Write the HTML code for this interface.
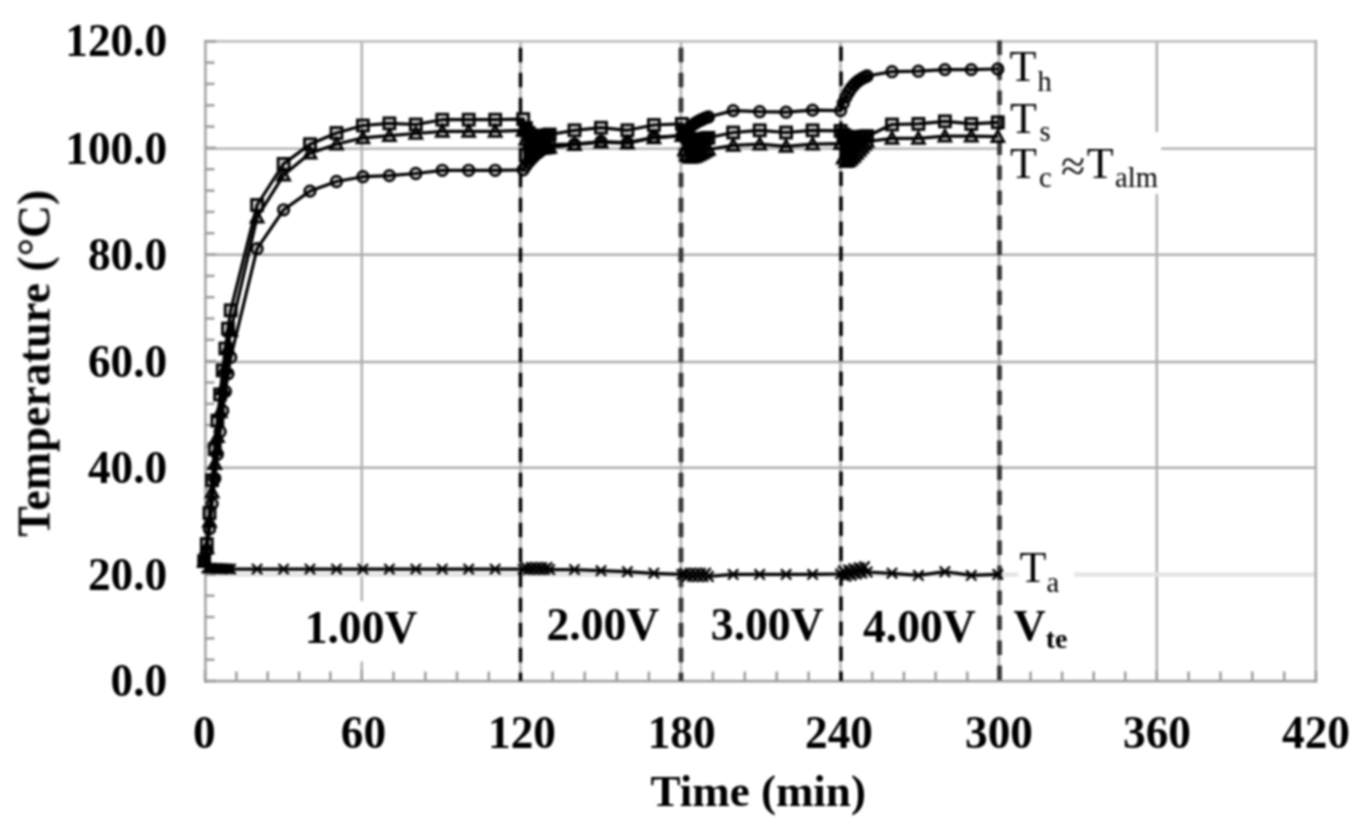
<!DOCTYPE html>
<html><head><meta charset="utf-8"><title>Temperature vs Time</title>
<style>
html,body{margin:0;padding:0;background:#fff;}
body{width:1366px;height:832px;overflow:hidden;}
svg{display:block;}
text{font-family:"Liberation Serif","Times New Roman",serif;fill:#000;}
.b{font-weight:bold;}
</style></head><body>
<svg width="1366" height="832" viewBox="0 0 1366 832">
<defs><filter id="soft" color-interpolation-filters="sRGB" x="-2%" y="-2%" width="104%" height="104%"><feGaussianBlur stdDeviation="0.9"/></filter></defs>
<rect width="1366" height="832" fill="#fff"/>
<g filter="url(#soft)">

<g stroke="#adadad" stroke-width="2.4" fill="none">
<line x1="361.8" y1="41" x2="361.8" y2="681"/>
<line x1="520.5" y1="41" x2="520.5" y2="681"/>
<line x1="681.0" y1="41" x2="681.0" y2="681"/>
<line x1="840.5" y1="41" x2="840.5" y2="681"/>
<line x1="999.0" y1="41" x2="999.0" y2="681"/>
<line x1="1156.8" y1="41" x2="1156.8" y2="681"/>
<line x1="205" y1="148.6" x2="1316" y2="148.6"/>
<line x1="205" y1="254.8" x2="1316" y2="254.8"/>
<line x1="205" y1="362.0" x2="1316" y2="362.0"/>
<line x1="205" y1="467.8" x2="1316" y2="467.8"/>
</g>
<line x1="205" y1="574.6" x2="1316" y2="574.6" stroke="#e4e4e4" stroke-width="4.4"/>
<rect x="1002" y="132" width="159" height="62" fill="#fff"/>
<rect x="300" y="601" width="122" height="60.5" fill="#fff"/>
<rect x="1018.6" y="548" width="55.4" height="50" fill="#fff"/>
<g stroke-width="2.9" fill="none" stroke-linecap="square">
<line x1="205.4" y1="41.4" x2="1315.8" y2="41.4" stroke="#c0c0c0"/>
<line x1="205.4" y1="41.4" x2="205.4" y2="681.2" stroke="#aeaeae"/>
<line x1="1315.8" y1="41.4" x2="1315.8" y2="681.2" stroke="#aeaeae" stroke-width="2.5"/>
<line x1="205.4" y1="681.2" x2="1315.8" y2="681.2" stroke="#a2a2a2" stroke-width="2.7"/>
</g>
<g stroke="#9c9c9c" stroke-width="2.5">
<line x1="205.0" y1="681" x2="205.0" y2="670.5"/>
<line x1="236.4" y1="681" x2="236.4" y2="671.5"/>
<line x1="267.7" y1="681" x2="267.7" y2="671.5"/>
<line x1="299.1" y1="681" x2="299.1" y2="671.5"/>
<line x1="330.4" y1="681" x2="330.4" y2="671.5"/>
<line x1="361.8" y1="681" x2="361.8" y2="670.5"/>
<line x1="393.5" y1="681" x2="393.5" y2="671.5"/>
<line x1="425.3" y1="681" x2="425.3" y2="671.5"/>
<line x1="457.0" y1="681" x2="457.0" y2="671.5"/>
<line x1="488.8" y1="681" x2="488.8" y2="671.5"/>
<line x1="520.5" y1="681" x2="520.5" y2="670.5"/>
<line x1="552.6" y1="681" x2="552.6" y2="671.5"/>
<line x1="584.7" y1="681" x2="584.7" y2="671.5"/>
<line x1="616.8" y1="681" x2="616.8" y2="671.5"/>
<line x1="648.9" y1="681" x2="648.9" y2="671.5"/>
<line x1="681.0" y1="681" x2="681.0" y2="670.5"/>
<line x1="712.9" y1="681" x2="712.9" y2="671.5"/>
<line x1="744.8" y1="681" x2="744.8" y2="671.5"/>
<line x1="776.7" y1="681" x2="776.7" y2="671.5"/>
<line x1="808.6" y1="681" x2="808.6" y2="671.5"/>
<line x1="840.5" y1="681" x2="840.5" y2="670.5"/>
<line x1="872.2" y1="681" x2="872.2" y2="671.5"/>
<line x1="903.9" y1="681" x2="903.9" y2="671.5"/>
<line x1="935.6" y1="681" x2="935.6" y2="671.5"/>
<line x1="967.3" y1="681" x2="967.3" y2="671.5"/>
<line x1="999.0" y1="681" x2="999.0" y2="670.5"/>
<line x1="1030.6" y1="681" x2="1030.6" y2="671.5"/>
<line x1="1062.1" y1="681" x2="1062.1" y2="671.5"/>
<line x1="1093.7" y1="681" x2="1093.7" y2="671.5"/>
<line x1="1125.2" y1="681" x2="1125.2" y2="671.5"/>
<line x1="1156.8" y1="681" x2="1156.8" y2="670.5"/>
<line x1="1188.6" y1="681" x2="1188.6" y2="671.5"/>
<line x1="1220.5" y1="681" x2="1220.5" y2="671.5"/>
<line x1="1252.3" y1="681" x2="1252.3" y2="671.5"/>
<line x1="1284.2" y1="681" x2="1284.2" y2="671.5"/>
<line x1="1316.0" y1="681" x2="1316.0" y2="670.5"/>
<line x1="205" y1="681.0" x2="216.0" y2="681.0"/>
<line x1="205" y1="659.7" x2="214.5" y2="659.7"/>
<line x1="205" y1="638.4" x2="214.5" y2="638.4"/>
<line x1="205" y1="617.0" x2="214.5" y2="617.0"/>
<line x1="205" y1="595.7" x2="214.5" y2="595.7"/>
<line x1="205" y1="574.4" x2="216.0" y2="574.4"/>
<line x1="205" y1="553.1" x2="214.5" y2="553.1"/>
<line x1="205" y1="531.7" x2="214.5" y2="531.7"/>
<line x1="205" y1="510.4" x2="214.5" y2="510.4"/>
<line x1="205" y1="489.1" x2="214.5" y2="489.1"/>
<line x1="205" y1="467.8" x2="216.0" y2="467.8"/>
<line x1="205" y1="446.4" x2="214.5" y2="446.4"/>
<line x1="205" y1="425.1" x2="214.5" y2="425.1"/>
<line x1="205" y1="403.8" x2="214.5" y2="403.8"/>
<line x1="205" y1="382.5" x2="214.5" y2="382.5"/>
<line x1="205" y1="361.1" x2="216.0" y2="361.1"/>
<line x1="205" y1="339.8" x2="214.5" y2="339.8"/>
<line x1="205" y1="318.5" x2="214.5" y2="318.5"/>
<line x1="205" y1="297.2" x2="214.5" y2="297.2"/>
<line x1="205" y1="275.9" x2="214.5" y2="275.9"/>
<line x1="205" y1="254.5" x2="216.0" y2="254.5"/>
<line x1="205" y1="233.2" x2="214.5" y2="233.2"/>
<line x1="205" y1="211.9" x2="214.5" y2="211.9"/>
<line x1="205" y1="190.6" x2="214.5" y2="190.6"/>
<line x1="205" y1="169.2" x2="214.5" y2="169.2"/>
<line x1="205" y1="147.9" x2="216.0" y2="147.9"/>
<line x1="205" y1="126.6" x2="214.5" y2="126.6"/>
<line x1="205" y1="105.3" x2="214.5" y2="105.3"/>
<line x1="205" y1="83.9" x2="214.5" y2="83.9"/>
<line x1="205" y1="62.6" x2="214.5" y2="62.6"/>
<line x1="205" y1="41.3" x2="216.0" y2="41.3"/>
</g>
<line x1="520.5" y1="47.8" x2="520.5" y2="681" stroke="#000" stroke-width="3.5" stroke-dasharray="14.5 10.5"/>
<line x1="681.0" y1="47.8" x2="681.0" y2="681" stroke="#383838" stroke-width="4.8" stroke-dasharray="14.5 10.5"/>
<line x1="841.0" y1="46.5" x2="841.0" y2="681" stroke="#000" stroke-width="3.5" stroke-dasharray="14.5 10.5"/>
<line x1="999.5" y1="40.5" x2="999.5" y2="681" stroke="#383838" stroke-width="4.8" stroke-dasharray="14.5 10.5"/>
<polygon points="204.2,561.1 206.8,544.1 209.5,513.0 212.1,480.2 214.8,449.2 217.4,420.6 220.1,394.4 222.7,370.4 225.4,348.5 228.0,328.6 230.7,310.3 230.7,357.4 228.0,373.8 225.4,391.5 222.7,410.8 220.1,431.7 217.4,454.3 214.8,478.4 212.1,503.7 209.5,528.9 206.8,550.7 204.2,561.1" fill="#000"/>
<polygon points="523.2,119.1 525.9,128.0 528.5,132.8 531.2,135.2 533.8,136.3 536.4,136.7 539.1,136.6 541.7,136.2 544.4,135.7 547.0,135.1 549.7,134.5 549.7,144.7 547.0,146.4 544.4,148.1 541.7,150.0 539.1,152.0 536.4,154.1 533.8,156.5 531.2,159.2 528.5,162.2 525.9,165.7 523.2,169.8" fill="#000"/>
<polygon points="681.9,123.9 684.6,132.7 687.2,137.0 689.9,138.9 692.5,139.7 695.2,139.8 697.8,139.6 700.5,139.2 703.1,138.8 705.7,138.3 708.4,137.8 708.4,149.5 705.7,150.9 703.1,152.4 700.5,153.8 697.8,155.1 695.2,156.3 692.5,157.1 689.9,157.3 687.2,155.7 684.6,150.2 681.9,135.7" fill="#000"/>
<polygon points="840.6,130.9 843.3,134.5 845.9,136.2 848.6,137.0 851.2,137.2 853.9,137.2 856.5,137.1 859.2,136.9 861.8,136.7 864.5,136.4 867.1,136.2 867.1,141.5 864.5,144.5 861.8,147.5 859.2,150.5 856.5,153.4 853.9,156.3 851.2,158.9 848.6,161.0 845.9,161.7 843.3,158.2 840.6,143.7" fill="#000"/>
<polyline points="204.2,561.6 206.8,568.1 209.5,568.2 212.1,568.3 214.8,568.4 217.4,568.5 220.1,568.6 222.7,568.7 225.4,568.8 228.0,568.9 230.7,569.1 257.1,569.1 283.6,569.1 310.0,569.1 336.5,569.1 362.9,569.1 389.4,569.1 415.8,569.1 442.3,569.1 468.7,569.1 495.2,569.1 523.2,569.1 525.9,567.5 528.5,569.6 531.2,567.5 533.8,569.6 536.4,567.5 539.1,569.6 541.7,567.5 544.4,569.6 547.0,567.5 549.7,569.6 574.5,569.6 601.0,570.7 627.4,571.7 653.9,573.3 681.9,574.4 684.6,573.3 687.2,576.5 689.9,573.3 692.5,576.5 695.2,573.3 697.8,576.5 700.5,573.3 703.1,576.5 705.7,573.3 708.4,576.5 733.2,574.4 759.7,574.4 786.1,574.4 812.6,574.4 840.6,573.9 843.3,570.9 845.9,576.2 848.6,569.9 851.2,575.2 853.9,568.8 856.5,574.1 859.2,567.7 861.8,573.1 864.5,566.7 867.1,572.0 892.0,573.3 918.4,575.4 944.9,571.7 971.3,575.4 997.8,574.4" fill="none" stroke="#000" stroke-width="3.2" stroke-linejoin="round"/>
<g fill="none" stroke="#000" stroke-width="2.4"><path d="M199.1 556.5 l10.2 10.2 m0 -10.2 l-10.2 10.2"/><path d="M201.7 563.0 l10.2 10.2 m0 -10.2 l-10.2 10.2"/><path d="M204.4 563.1 l10.2 10.2 m0 -10.2 l-10.2 10.2"/><path d="M207.0 563.2 l10.2 10.2 m0 -10.2 l-10.2 10.2"/><path d="M209.7 563.3 l10.2 10.2 m0 -10.2 l-10.2 10.2"/><path d="M212.3 563.4 l10.2 10.2 m0 -10.2 l-10.2 10.2"/><path d="M215.0 563.5 l10.2 10.2 m0 -10.2 l-10.2 10.2"/><path d="M217.6 563.6 l10.2 10.2 m0 -10.2 l-10.2 10.2"/><path d="M220.3 563.7 l10.2 10.2 m0 -10.2 l-10.2 10.2"/><path d="M222.9 563.8 l10.2 10.2 m0 -10.2 l-10.2 10.2"/><path d="M225.6 564.0 l10.2 10.2 m0 -10.2 l-10.2 10.2"/><path d="M252.0 564.0 l10.2 10.2 m0 -10.2 l-10.2 10.2"/><path d="M278.5 564.0 l10.2 10.2 m0 -10.2 l-10.2 10.2"/><path d="M304.9 564.0 l10.2 10.2 m0 -10.2 l-10.2 10.2"/><path d="M331.4 564.0 l10.2 10.2 m0 -10.2 l-10.2 10.2"/><path d="M357.8 564.0 l10.2 10.2 m0 -10.2 l-10.2 10.2"/><path d="M384.3 564.0 l10.2 10.2 m0 -10.2 l-10.2 10.2"/><path d="M410.7 564.0 l10.2 10.2 m0 -10.2 l-10.2 10.2"/><path d="M437.2 564.0 l10.2 10.2 m0 -10.2 l-10.2 10.2"/><path d="M463.6 564.0 l10.2 10.2 m0 -10.2 l-10.2 10.2"/><path d="M490.1 564.0 l10.2 10.2 m0 -10.2 l-10.2 10.2"/><path d="M518.1 564.0 l10.2 10.2 m0 -10.2 l-10.2 10.2"/><path d="M520.8 562.4 l10.2 10.2 m0 -10.2 l-10.2 10.2"/><path d="M523.4 564.5 l10.2 10.2 m0 -10.2 l-10.2 10.2"/><path d="M526.1 562.4 l10.2 10.2 m0 -10.2 l-10.2 10.2"/><path d="M528.7 564.5 l10.2 10.2 m0 -10.2 l-10.2 10.2"/><path d="M531.3 562.4 l10.2 10.2 m0 -10.2 l-10.2 10.2"/><path d="M534.0 564.5 l10.2 10.2 m0 -10.2 l-10.2 10.2"/><path d="M536.6 562.4 l10.2 10.2 m0 -10.2 l-10.2 10.2"/><path d="M539.3 564.5 l10.2 10.2 m0 -10.2 l-10.2 10.2"/><path d="M541.9 562.4 l10.2 10.2 m0 -10.2 l-10.2 10.2"/><path d="M544.6 564.5 l10.2 10.2 m0 -10.2 l-10.2 10.2"/><path d="M569.4 564.5 l10.2 10.2 m0 -10.2 l-10.2 10.2"/><path d="M595.9 565.6 l10.2 10.2 m0 -10.2 l-10.2 10.2"/><path d="M622.3 566.6 l10.2 10.2 m0 -10.2 l-10.2 10.2"/><path d="M648.8 568.2 l10.2 10.2 m0 -10.2 l-10.2 10.2"/><path d="M676.8 569.3 l10.2 10.2 m0 -10.2 l-10.2 10.2"/><path d="M679.5 568.2 l10.2 10.2 m0 -10.2 l-10.2 10.2"/><path d="M682.1 571.4 l10.2 10.2 m0 -10.2 l-10.2 10.2"/><path d="M684.8 568.2 l10.2 10.2 m0 -10.2 l-10.2 10.2"/><path d="M687.4 571.4 l10.2 10.2 m0 -10.2 l-10.2 10.2"/><path d="M690.1 568.2 l10.2 10.2 m0 -10.2 l-10.2 10.2"/><path d="M692.7 571.4 l10.2 10.2 m0 -10.2 l-10.2 10.2"/><path d="M695.4 568.2 l10.2 10.2 m0 -10.2 l-10.2 10.2"/><path d="M698.0 571.4 l10.2 10.2 m0 -10.2 l-10.2 10.2"/><path d="M700.6 568.2 l10.2 10.2 m0 -10.2 l-10.2 10.2"/><path d="M703.3 571.4 l10.2 10.2 m0 -10.2 l-10.2 10.2"/><path d="M728.1 569.3 l10.2 10.2 m0 -10.2 l-10.2 10.2"/><path d="M754.6 569.3 l10.2 10.2 m0 -10.2 l-10.2 10.2"/><path d="M781.0 569.3 l10.2 10.2 m0 -10.2 l-10.2 10.2"/><path d="M807.5 569.3 l10.2 10.2 m0 -10.2 l-10.2 10.2"/><path d="M835.5 568.8 l10.2 10.2 m0 -10.2 l-10.2 10.2"/><path d="M838.2 565.8 l10.2 10.2 m0 -10.2 l-10.2 10.2"/><path d="M840.8 571.1 l10.2 10.2 m0 -10.2 l-10.2 10.2"/><path d="M843.5 564.8 l10.2 10.2 m0 -10.2 l-10.2 10.2"/><path d="M846.1 570.1 l10.2 10.2 m0 -10.2 l-10.2 10.2"/><path d="M848.8 563.7 l10.2 10.2 m0 -10.2 l-10.2 10.2"/><path d="M851.4 569.0 l10.2 10.2 m0 -10.2 l-10.2 10.2"/><path d="M854.1 562.6 l10.2 10.2 m0 -10.2 l-10.2 10.2"/><path d="M856.7 568.0 l10.2 10.2 m0 -10.2 l-10.2 10.2"/><path d="M859.4 561.6 l10.2 10.2 m0 -10.2 l-10.2 10.2"/><path d="M862.0 566.9 l10.2 10.2 m0 -10.2 l-10.2 10.2"/><path d="M886.9 568.2 l10.2 10.2 m0 -10.2 l-10.2 10.2"/><path d="M913.3 570.3 l10.2 10.2 m0 -10.2 l-10.2 10.2"/><path d="M939.8 566.6 l10.2 10.2 m0 -10.2 l-10.2 10.2"/><path d="M966.2 570.3 l10.2 10.2 m0 -10.2 l-10.2 10.2"/><path d="M992.7 569.3 l10.2 10.2 m0 -10.2 l-10.2 10.2"/></g>
<polyline points="204.2,561.1 206.8,547.8 209.5,521.4 212.1,492.2 214.8,463.6 217.4,436.7 220.1,411.9 222.7,388.9 225.4,367.8 228.0,348.5 230.7,330.6 257.1,217.2 283.6,175.1 310.0,153.2 336.5,144.2 362.9,137.8 389.4,135.7 415.8,133.5 442.3,131.4 468.7,131.4 495.2,131.4 523.2,130.3 525.9,139.3 528.5,144.3 531.2,146.9 533.8,148.2 536.4,148.7 539.1,148.7 541.7,148.5 544.4,148.2 547.0,147.8 549.7,147.3 574.5,144.7 601.0,142.1 627.4,143.1 653.9,137.8 681.9,135.7 684.6,150.2 687.2,155.7 689.9,157.3 692.5,157.1 695.2,156.3 697.8,155.1 700.5,153.8 703.1,152.4 705.7,150.9 708.4,149.5 733.2,145.3 759.7,144.2 786.1,146.3 812.6,144.2 840.6,143.7 843.3,158.2 845.9,161.7 848.6,161.0 851.2,158.9 853.9,156.3 856.5,153.4 859.2,150.5 861.8,147.5 864.5,144.5 867.1,141.5 892.0,138.3 918.4,138.3 944.9,136.2 971.3,136.2 997.8,136.7" fill="none" stroke="#000" stroke-width="3.2" stroke-linejoin="round"/>
<g fill="rgba(0,0,0,0.16)" stroke="#000" stroke-width="2.7"><path d="M204.2 555.1 l6.0 11.0 h-12.0 z"/><path d="M206.8 541.8 l6.0 11.0 h-12.0 z"/><path d="M209.5 515.4 l6.0 11.0 h-12.0 z"/><path d="M212.1 486.2 l6.0 11.0 h-12.0 z"/><path d="M214.8 457.6 l6.0 11.0 h-12.0 z"/><path d="M217.4 430.7 l6.0 11.0 h-12.0 z"/><path d="M220.1 405.9 l6.0 11.0 h-12.0 z"/><path d="M222.7 382.9 l6.0 11.0 h-12.0 z"/><path d="M225.4 361.8 l6.0 11.0 h-12.0 z"/><path d="M228.0 342.5 l6.0 11.0 h-12.0 z"/><path d="M230.7 324.6 l6.0 11.0 h-12.0 z"/><path d="M257.1 211.2 l6.0 11.0 h-12.0 z"/><path d="M283.6 169.1 l6.0 11.0 h-12.0 z"/><path d="M310.0 147.2 l6.0 11.0 h-12.0 z"/><path d="M336.5 138.2 l6.0 11.0 h-12.0 z"/><path d="M362.9 131.8 l6.0 11.0 h-12.0 z"/><path d="M389.4 129.7 l6.0 11.0 h-12.0 z"/><path d="M415.8 127.5 l6.0 11.0 h-12.0 z"/><path d="M442.3 125.4 l6.0 11.0 h-12.0 z"/><path d="M468.7 125.4 l6.0 11.0 h-12.0 z"/><path d="M495.2 125.4 l6.0 11.0 h-12.0 z"/><path d="M523.2 124.3 l6.0 11.0 h-12.0 z"/><path d="M525.9 133.3 l6.0 11.0 h-12.0 z"/><path d="M528.5 138.3 l6.0 11.0 h-12.0 z"/><path d="M531.2 140.9 l6.0 11.0 h-12.0 z"/><path d="M533.8 142.2 l6.0 11.0 h-12.0 z"/><path d="M536.4 142.7 l6.0 11.0 h-12.0 z"/><path d="M539.1 142.7 l6.0 11.0 h-12.0 z"/><path d="M541.7 142.5 l6.0 11.0 h-12.0 z"/><path d="M544.4 142.2 l6.0 11.0 h-12.0 z"/><path d="M547.0 141.8 l6.0 11.0 h-12.0 z"/><path d="M549.7 141.3 l6.0 11.0 h-12.0 z"/><path d="M574.5 138.7 l6.0 11.0 h-12.0 z"/><path d="M601.0 136.1 l6.0 11.0 h-12.0 z"/><path d="M627.4 137.1 l6.0 11.0 h-12.0 z"/><path d="M653.9 131.8 l6.0 11.0 h-12.0 z"/><path d="M681.9 129.7 l6.0 11.0 h-12.0 z"/><path d="M684.6 144.2 l6.0 11.0 h-12.0 z"/><path d="M687.2 149.7 l6.0 11.0 h-12.0 z"/><path d="M689.9 151.3 l6.0 11.0 h-12.0 z"/><path d="M692.5 151.1 l6.0 11.0 h-12.0 z"/><path d="M695.2 150.3 l6.0 11.0 h-12.0 z"/><path d="M697.8 149.1 l6.0 11.0 h-12.0 z"/><path d="M700.5 147.8 l6.0 11.0 h-12.0 z"/><path d="M703.1 146.4 l6.0 11.0 h-12.0 z"/><path d="M705.7 144.9 l6.0 11.0 h-12.0 z"/><path d="M708.4 143.5 l6.0 11.0 h-12.0 z"/><path d="M733.2 139.3 l6.0 11.0 h-12.0 z"/><path d="M759.7 138.2 l6.0 11.0 h-12.0 z"/><path d="M786.1 140.3 l6.0 11.0 h-12.0 z"/><path d="M812.6 138.2 l6.0 11.0 h-12.0 z"/><path d="M840.6 137.7 l6.0 11.0 h-12.0 z"/><path d="M843.3 152.2 l6.0 11.0 h-12.0 z"/><path d="M845.9 155.7 l6.0 11.0 h-12.0 z"/><path d="M848.6 155.0 l6.0 11.0 h-12.0 z"/><path d="M851.2 152.9 l6.0 11.0 h-12.0 z"/><path d="M853.9 150.3 l6.0 11.0 h-12.0 z"/><path d="M856.5 147.4 l6.0 11.0 h-12.0 z"/><path d="M859.2 144.5 l6.0 11.0 h-12.0 z"/><path d="M861.8 141.5 l6.0 11.0 h-12.0 z"/><path d="M864.5 138.5 l6.0 11.0 h-12.0 z"/><path d="M867.1 135.5 l6.0 11.0 h-12.0 z"/><path d="M892.0 132.3 l6.0 11.0 h-12.0 z"/><path d="M918.4 132.3 l6.0 11.0 h-12.0 z"/><path d="M944.9 130.2 l6.0 11.0 h-12.0 z"/><path d="M971.3 130.2 l6.0 11.0 h-12.0 z"/><path d="M997.8 130.7 l6.0 11.0 h-12.0 z"/></g>
<polyline points="204.2,561.1 206.8,544.1 209.5,513.0 212.1,480.2 214.8,449.2 217.4,420.6 220.1,394.4 222.7,370.4 225.4,348.5 228.0,328.6 230.7,310.3 257.1,205.0 283.6,163.9 310.0,144.2 336.5,133.0 362.9,125.5 389.4,123.4 415.8,124.5 442.3,119.7 468.7,119.7 495.2,119.7 523.2,119.1 525.9,128.0 528.5,132.8 531.2,135.2 533.8,136.3 536.4,136.7 539.1,136.6 541.7,136.2 544.4,135.7 547.0,135.1 549.7,134.5 574.5,130.3 601.0,127.7 627.4,130.3 653.9,125.0 681.9,123.9 684.6,132.7 687.2,137.0 689.9,138.9 692.5,139.7 695.2,139.8 697.8,139.6 700.5,139.2 703.1,138.8 705.7,138.3 708.4,137.8 733.2,132.5 759.7,130.3 786.1,132.5 812.6,130.3 840.6,130.9 843.3,134.5 845.9,136.2 848.6,137.0 851.2,137.2 853.9,137.2 856.5,137.1 859.2,136.9 861.8,136.7 864.5,136.4 867.1,136.2 892.0,124.5 918.4,123.9 944.9,121.3 971.3,123.9 997.8,122.3" fill="none" stroke="#000" stroke-width="3.2" stroke-linejoin="round"/>
<g fill="rgba(0,0,0,0.16)" stroke="#000" stroke-width="2.8"><rect x="198.7" y="555.6" width="11.0" height="11.0"/><rect x="201.3" y="538.6" width="11.0" height="11.0"/><rect x="204.0" y="507.5" width="11.0" height="11.0"/><rect x="206.6" y="474.7" width="11.0" height="11.0"/><rect x="209.3" y="443.7" width="11.0" height="11.0"/><rect x="211.9" y="415.1" width="11.0" height="11.0"/><rect x="214.6" y="388.9" width="11.0" height="11.0"/><rect x="217.2" y="364.9" width="11.0" height="11.0"/><rect x="219.9" y="343.0" width="11.0" height="11.0"/><rect x="222.5" y="323.1" width="11.0" height="11.0"/><rect x="225.2" y="304.8" width="11.0" height="11.0"/><rect x="251.6" y="199.5" width="11.0" height="11.0"/><rect x="278.1" y="158.4" width="11.0" height="11.0"/><rect x="304.5" y="138.7" width="11.0" height="11.0"/><rect x="331.0" y="127.5" width="11.0" height="11.0"/><rect x="357.4" y="120.0" width="11.0" height="11.0"/><rect x="383.9" y="117.9" width="11.0" height="11.0"/><rect x="410.3" y="119.0" width="11.0" height="11.0"/><rect x="436.8" y="114.2" width="11.0" height="11.0"/><rect x="463.2" y="114.2" width="11.0" height="11.0"/><rect x="489.7" y="114.2" width="11.0" height="11.0"/><rect x="517.7" y="113.6" width="11.0" height="11.0"/><rect x="520.4" y="122.5" width="11.0" height="11.0"/><rect x="523.0" y="127.3" width="11.0" height="11.0"/><rect x="525.7" y="129.7" width="11.0" height="11.0"/><rect x="528.3" y="130.8" width="11.0" height="11.0"/><rect x="530.9" y="131.2" width="11.0" height="11.0"/><rect x="533.6" y="131.1" width="11.0" height="11.0"/><rect x="536.2" y="130.7" width="11.0" height="11.0"/><rect x="538.9" y="130.2" width="11.0" height="11.0"/><rect x="541.5" y="129.6" width="11.0" height="11.0"/><rect x="544.2" y="129.0" width="11.0" height="11.0"/><rect x="569.0" y="124.8" width="11.0" height="11.0"/><rect x="595.5" y="122.2" width="11.0" height="11.0"/><rect x="621.9" y="124.8" width="11.0" height="11.0"/><rect x="648.4" y="119.5" width="11.0" height="11.0"/><rect x="676.4" y="118.4" width="11.0" height="11.0"/><rect x="679.1" y="127.2" width="11.0" height="11.0"/><rect x="681.7" y="131.5" width="11.0" height="11.0"/><rect x="684.4" y="133.4" width="11.0" height="11.0"/><rect x="687.0" y="134.2" width="11.0" height="11.0"/><rect x="689.7" y="134.3" width="11.0" height="11.0"/><rect x="692.3" y="134.1" width="11.0" height="11.0"/><rect x="695.0" y="133.7" width="11.0" height="11.0"/><rect x="697.6" y="133.3" width="11.0" height="11.0"/><rect x="700.2" y="132.8" width="11.0" height="11.0"/><rect x="702.9" y="132.3" width="11.0" height="11.0"/><rect x="727.7" y="127.0" width="11.0" height="11.0"/><rect x="754.2" y="124.8" width="11.0" height="11.0"/><rect x="780.6" y="127.0" width="11.0" height="11.0"/><rect x="807.1" y="124.8" width="11.0" height="11.0"/><rect x="835.1" y="125.4" width="11.0" height="11.0"/><rect x="837.8" y="129.0" width="11.0" height="11.0"/><rect x="840.4" y="130.7" width="11.0" height="11.0"/><rect x="843.1" y="131.5" width="11.0" height="11.0"/><rect x="845.7" y="131.7" width="11.0" height="11.0"/><rect x="848.4" y="131.7" width="11.0" height="11.0"/><rect x="851.0" y="131.6" width="11.0" height="11.0"/><rect x="853.7" y="131.4" width="11.0" height="11.0"/><rect x="856.3" y="131.2" width="11.0" height="11.0"/><rect x="859.0" y="130.9" width="11.0" height="11.0"/><rect x="861.6" y="130.7" width="11.0" height="11.0"/><rect x="886.5" y="119.0" width="11.0" height="11.0"/><rect x="912.9" y="118.4" width="11.0" height="11.0"/><rect x="939.4" y="115.8" width="11.0" height="11.0"/><rect x="965.8" y="118.4" width="11.0" height="11.0"/><rect x="992.3" y="116.8" width="11.0" height="11.0"/></g>
<polyline points="204.2,561.1 206.8,550.7 209.5,528.9 212.1,503.7 214.8,478.4 217.4,454.3 220.1,431.7 222.7,410.8 225.4,391.5 228.0,373.8 230.7,357.4 257.1,248.7 283.6,209.8 310.0,191.1 336.5,181.5 362.9,176.7 389.4,175.6 415.8,173.5 442.3,170.3 468.7,170.3 495.2,170.3 523.2,169.8 525.9,165.7 528.5,162.2 531.2,159.2 533.8,156.5 536.4,154.1 539.1,152.0 541.7,150.0 544.4,148.1 547.0,146.4 549.7,144.7 574.5,144.2 601.0,141.5 627.4,142.6 653.9,137.3 681.9,135.7 684.6,132.4 687.2,129.7 689.9,127.2 692.5,125.1 695.2,123.2 697.8,121.6 700.5,120.2 703.1,119.0 705.7,117.9 708.4,117.0 733.2,110.6 759.7,111.7 786.1,112.2 812.6,110.1 840.6,110.6 843.3,103.2 845.9,97.1 848.6,92.2 851.2,88.2 853.9,85.0 856.5,82.4 859.2,80.3 861.8,78.6 864.5,77.2 867.1,76.0 892.0,71.7 918.4,71.2 944.9,69.6 971.3,69.6 997.8,69.0" fill="none" stroke="#000" stroke-width="3.2" stroke-linejoin="round"/>
<g fill="rgba(0,0,0,0.16)" stroke="#000" stroke-width="2.7"><circle cx="204.2" cy="561.1" r="5.3"/><circle cx="206.8" cy="550.7" r="5.3"/><circle cx="209.5" cy="528.9" r="5.3"/><circle cx="212.1" cy="503.7" r="5.3"/><circle cx="214.8" cy="478.4" r="5.3"/><circle cx="217.4" cy="454.3" r="5.3"/><circle cx="220.1" cy="431.7" r="5.3"/><circle cx="222.7" cy="410.8" r="5.3"/><circle cx="225.4" cy="391.5" r="5.3"/><circle cx="228.0" cy="373.8" r="5.3"/><circle cx="230.7" cy="357.4" r="5.3"/><circle cx="257.1" cy="248.7" r="5.3"/><circle cx="283.6" cy="209.8" r="5.3"/><circle cx="310.0" cy="191.1" r="5.3"/><circle cx="336.5" cy="181.5" r="5.3"/><circle cx="362.9" cy="176.7" r="5.3"/><circle cx="389.4" cy="175.6" r="5.3"/><circle cx="415.8" cy="173.5" r="5.3"/><circle cx="442.3" cy="170.3" r="5.3"/><circle cx="468.7" cy="170.3" r="5.3"/><circle cx="495.2" cy="170.3" r="5.3"/><circle cx="523.2" cy="169.8" r="5.3"/><circle cx="525.9" cy="165.7" r="5.3"/><circle cx="528.5" cy="162.2" r="5.3"/><circle cx="531.2" cy="159.2" r="5.3"/><circle cx="533.8" cy="156.5" r="5.3"/><circle cx="536.4" cy="154.1" r="5.3"/><circle cx="539.1" cy="152.0" r="5.3"/><circle cx="541.7" cy="150.0" r="5.3"/><circle cx="544.4" cy="148.1" r="5.3"/><circle cx="547.0" cy="146.4" r="5.3"/><circle cx="549.7" cy="144.7" r="5.3"/><circle cx="574.5" cy="144.2" r="5.3"/><circle cx="601.0" cy="141.5" r="5.3"/><circle cx="627.4" cy="142.6" r="5.3"/><circle cx="653.9" cy="137.3" r="5.3"/><circle cx="681.9" cy="135.7" r="5.3"/><circle cx="684.6" cy="132.4" r="5.3"/><circle cx="687.2" cy="129.7" r="5.3"/><circle cx="689.9" cy="127.2" r="5.3"/><circle cx="692.5" cy="125.1" r="5.3"/><circle cx="695.2" cy="123.2" r="5.3"/><circle cx="697.8" cy="121.6" r="5.3"/><circle cx="700.5" cy="120.2" r="5.3"/><circle cx="703.1" cy="119.0" r="5.3"/><circle cx="705.7" cy="117.9" r="5.3"/><circle cx="708.4" cy="117.0" r="5.3"/><circle cx="733.2" cy="110.6" r="5.3"/><circle cx="759.7" cy="111.7" r="5.3"/><circle cx="786.1" cy="112.2" r="5.3"/><circle cx="812.6" cy="110.1" r="5.3"/><circle cx="840.6" cy="110.6" r="5.3"/><circle cx="843.3" cy="103.2" r="5.3"/><circle cx="845.9" cy="97.1" r="5.3"/><circle cx="848.6" cy="92.2" r="5.3"/><circle cx="851.2" cy="88.2" r="5.3"/><circle cx="853.9" cy="85.0" r="5.3"/><circle cx="856.5" cy="82.4" r="5.3"/><circle cx="859.2" cy="80.3" r="5.3"/><circle cx="861.8" cy="78.6" r="5.3"/><circle cx="864.5" cy="77.2" r="5.3"/><circle cx="867.1" cy="76.0" r="5.3"/><circle cx="892.0" cy="71.7" r="5.3"/><circle cx="918.4" cy="71.2" r="5.3"/><circle cx="944.9" cy="69.6" r="5.3"/><circle cx="971.3" cy="69.6" r="5.3"/><circle cx="997.8" cy="69.0" r="5.3"/></g>
<g class="b" font-size="45.3" text-anchor="end">
<text transform="translate(167.2 56.3) scale(1 1.045)">120.0</text>
<text transform="translate(167.2 163.6) scale(1 1.045)">100.0</text>
<text transform="translate(167.2 269.8) scale(1 1.045)">80.0</text>
<text transform="translate(167.2 377.0) scale(1 1.045)">60.0</text>
<text transform="translate(167.2 482.8) scale(1 1.045)">40.0</text>
<text transform="translate(167.2 589.6) scale(1 1.045)">20.0</text>
<text transform="translate(167.2 696.0) scale(1 1.045)">0.0</text>
</g>
<g class="b" font-size="45.3" text-anchor="middle">
<text transform="translate(204.3 748) scale(1 1.045)">0</text>
<text transform="translate(363.5 748) scale(1 1.045)">60</text>
<text transform="translate(522.0 748) scale(1 1.045)">120</text>
<text transform="translate(681.7 748) scale(1 1.045)">180</text>
<text transform="translate(839.0 748) scale(1 1.045)">240</text>
<text transform="translate(999.0 748) scale(1 1.045)">300</text>
<text transform="translate(1157.0 748) scale(1 1.045)">360</text>
<text transform="translate(1316.0 748) scale(1 1.045)">420</text>
</g>
<text class="b" font-size="45" text-anchor="middle" x="758.2" y="806.3">Time (min)</text>
<text class="b" font-size="45.7" text-anchor="middle" transform="translate(49.6 363.3) rotate(-90)">Temperature (°C)</text>
<text class="b" font-size="45.6" text-anchor="middle" x="361.0" y="642.5">1.00V</text>
<text class="b" font-size="45.6" text-anchor="middle" x="602.8" y="639.5">2.00V</text>
<text class="b" font-size="45.6" text-anchor="middle" x="767.2" y="640.0">3.00V</text>
<text class="b" font-size="45.6" text-anchor="middle" x="919.3" y="642.0">4.00V</text>
<text class="b" font-size="44.5" x="1013.5" y="640">V<tspan font-size="28" dy="8">te</tspan></text>
<text font-size="44" x="1009.5" y="80.8">T<tspan font-size="28.5" dy="9.8" dx="1">h</tspan></text>
<text font-size="44" x="1010" y="132.8">T<tspan font-size="28.5" dy="8.6" dx="2.5">s</tspan></text>
<text font-size="44" x="1010" y="178.2">T<tspan font-size="28.5" dy="8.7" dx="2">c</tspan><tspan font-size="44" dy="-6.2" dx="9.5">≈</tspan><tspan font-size="44" dy="-2.5" dx="1.5">T</tspan><tspan font-size="28.5" dy="8.7" dx="1.5">alm</tspan></text>
<text font-size="44" x="1019.5" y="582">T<tspan font-size="28.5" dy="9.6" dx="0">a</tspan></text>
</g></svg></body></html>
